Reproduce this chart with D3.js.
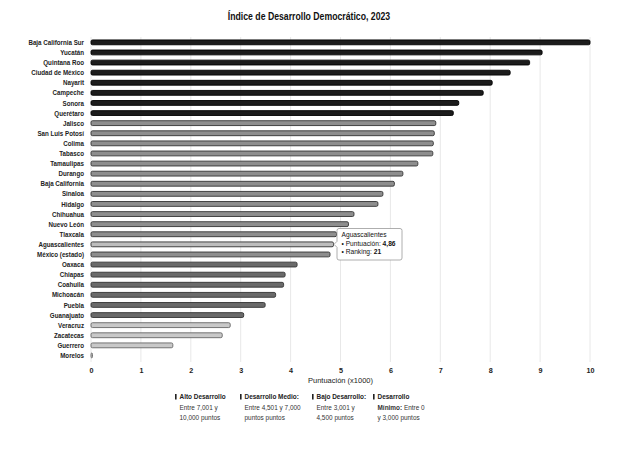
<!DOCTYPE html>
<html><head><meta charset="utf-8">
<script src="https://cdn.jsdelivr.net/npm/d3@7"></script>
<style>body{margin:0;background:#fff}svg{display:block}text{font-family:"Liberation Sans",Arial,sans-serif}</style>
</head><body><svg id="c" width="618" height="460"></svg>
<script>
const states = ["Baja California Sur","Yucatán","Quintana Roo","Ciudad de México","Nayarit","Campeche","Sonora","Querétaro","Jalisco","San Luis Potosí","Colima","Tabasco","Tamaulipas","Durango","Baja California","Sinaloa","Hidalgo","Chihuahua","Nuevo León","Tlaxcala","Aguascalientes","México (estado)","Oaxaca","Chiapas","Coahuila","Michoacán","Puebla","Guanajuato","Veracruz","Zacatecas","Guerrero","Morelos"];
const scores = [10.0,9.04,8.79,8.40,8.04,7.86,7.37,7.26,6.91,6.88,6.86,6.85,6.55,6.25,6.08,5.85,5.75,5.27,5.16,4.92,4.86,4.79,4.13,3.89,3.86,3.70,3.49,3.06,2.79,2.63,1.64,0.03];
const xTicks = [0,1,2,3,4,5,6,7,8,9,10];
const legendTitles = ["Alto Desarrollo","Desarrollo Medio:","Bajo Desarrollo:","Desarrollo"];
const legendLines = [["Entre 7,001 y","10,000 puntos"],["Entre 4,501 y 7,000","puntos puntos"],["Entre 3,001 y","4,500 puntos"],["Mínimo: Entre 0","y 3,000 puntos"]];
const tipState = "Aguascalientes";

const svg = d3.select("#c");
const x = d3.scaleLinear().domain([0,10]).range([91,590]);
const y = d3.scaleBand().domain(states).range([37.3,360.5]).paddingInner(0.52).paddingOuter(0.26);

function fillOf(v, s){
  if (s===tipState) return "#bdbdbd";
  if (v>7) return "#1c1c1c";
  if (v>4.5) return "#8e8e8e";
  if (v>3) return "#6a6a6a";
  return "#c8c8c8";
}
function strokeOf(v){
  if (v>7) return "#000";
  if (v>3) return "#333";
  return "#666";
}

svg.append("g").attr("transform","translate(309,20) scale(0.83,1)")
  .append("text").attr("x",0).attr("y",0).attr("text-anchor","middle")
  .attr("font-size",10.5).attr("font-weight","bold").attr("fill","#111")
  .text("Índice de Desarrollo Democrático, 2023");

// grid
svg.append("g").selectAll("line").data(xTicks).join("line")
  .attr("x1",d=>x(d)).attr("x2",d=>x(d)).attr("y1",37).attr("y2",362)
  .attr("stroke","#e8e8e8").attr("stroke-width",1);

// bars
svg.append("g").selectAll("rect").data(states).join("rect")
  .attr("x",x(0)).attr("y",(d)=>y(d))
  .attr("width",(d,i)=>Math.max(0.5,x(scores[i])-x(0)))
  .attr("height",y.bandwidth())
  .attr("rx",1.5)
  .attr("fill",(d,i)=>fillOf(scores[i],d))
  .attr("stroke",(d,i)=>strokeOf(scores[i]))
  .attr("stroke-width",0.9);

// y labels (condensed)
svg.append("g").attr("transform","translate(84,0) scale(0.84,1)")
  .selectAll("text").data(states).join("text")
  .attr("x",0).attr("y",d=>y(d)+y.bandwidth()/2).attr("dy","0.35em")
  .attr("text-anchor","end").attr("font-size",7.4).attr("font-weight","bold").attr("fill","#222")
  .text(d=>d);

// x axis
const xa = svg.append("g").attr("transform","translate(0,362)")
  .call(d3.axisBottom(x).tickValues(xTicks).tickSize(0).tickPadding(6).tickFormat(d3.format("d")));
xa.select(".domain").remove();
xa.selectAll("text").attr("font-size",7.2).attr("font-weight","bold").attr("fill","#222").style("font-family","Liberation Sans, Arial");

svg.append("text").attr("x",x(5)).attr("y",383).attr("text-anchor","middle")
  .attr("font-size",7.5).attr("fill","#222").text("Puntuación (x1000)");

// legend
const lx = [175,240,312,373];
const lg = svg.append("g").selectAll("g").data(legendTitles).join("g")
  .attr("transform",(d,i)=>`translate(${lx[i]},0)`);
lg.append("rect").attr("x",0).attr("y",394).attr("width",1.6).attr("height",5.5).attr("fill","#222");
lg.append("g").attr("transform","translate(4.5,0) scale(0.92,1)").append("text")
  .attr("x",0).attr("y",399.5).attr("font-size",7).attr("font-weight","bold").attr("fill","#222").text(d=>d);
lg.each(function(d,i){
  const g = d3.select(this).append("g").attr("transform","translate(4.5,0) scale(0.92,1)");
  legendLines[i].forEach((t,j)=>{
    const tx = g.append("text").attr("x",0).attr("y",410+j*10.5).attr("font-size",7).attr("fill","#333");
    if (t.startsWith("Mínimo:")) {
      tx.append("tspan").attr("font-weight","bold").text("Mínimo:");
      tx.append("tspan").text(t.slice(7));
    } else tx.text(t);
  });
});

// tooltip
const ti = states.indexOf(tipState);
const bx = x(scores[ti])+3.5, by = 228.5, bw = 65, bh = 31.5;
const py = y(tipState)+y.bandwidth()/2;
const tp = `M${bx+2},${by} H${bx+bw-2} Q${bx+bw},${by} ${bx+bw},${by+2} V${by+bh-2} Q${bx+bw},${by+bh} ${bx+bw-2},${by+bh} H${bx+2} Q${bx},${by+bh} ${bx},${by+bh-2} V${py+3} L${bx-3},${py} L${bx},${py-3} V${by+2} Q${bx},${by} ${bx+2},${by} Z`;
svg.append("path").attr("d",tp).attr("fill","#fff").attr("stroke","#999").attr("stroke-width",0.8);
const tg = svg.append("g").attr("transform",`translate(${bx+4.5},0) scale(0.9,1)`).attr("font-size",7.4).attr("fill","#111");
tg.append("text").attr("x",0).attr("y",by+9).text(tipState);
const t2 = tg.append("text").attr("x",0).attr("y",by+17.5);
t2.append("tspan").text("• Puntuación: ");
t2.append("tspan").attr("font-weight","bold").text(d3.format(".2f")(scores[ti]).replace(".",","));
const t3 = tg.append("text").attr("x",0).attr("y",by+25.5);
t3.append("tspan").text("• Ranking: ");
t3.append("tspan").attr("font-weight","bold").text(ti+1);
</script></body></html>
